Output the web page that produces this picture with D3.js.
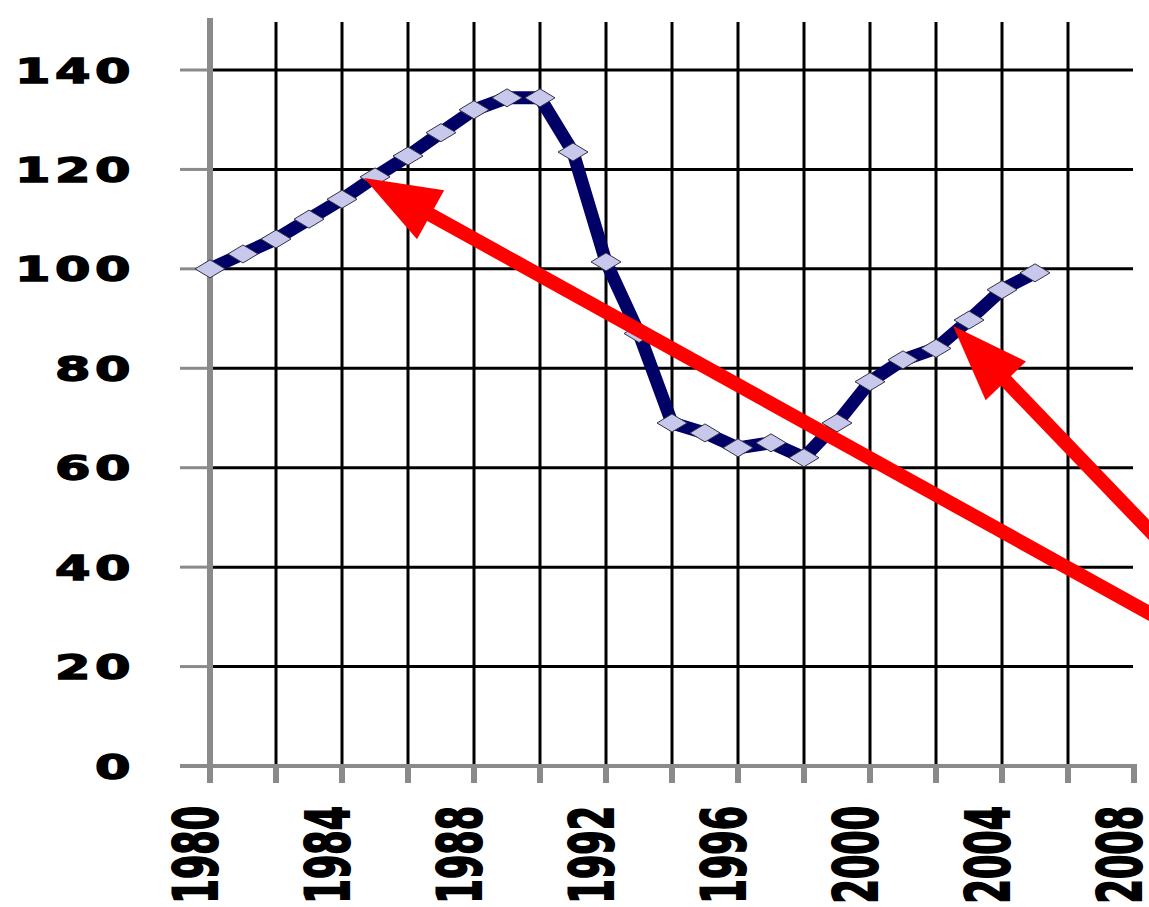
<!DOCTYPE html>
<html><head><meta charset="utf-8">
<script src="https://cdn.jsdelivr.net/npm/d3@7"></script>
<style>html,body{margin:0;padding:0;background:#fff;overflow:hidden}</style>
</head><body><svg id="chart" width="1149" height="907"></svg>
<script>
const years = [1980,1981,1982,1983,1984,1985,1986,1987,1988,1989,1990,1991,1992,1993,1994,1995,1996,1997,1998,1999,2000,2001,2002,2003,2004,2005];
const values = [100,103,106,110,114,118.5,122.7,127.4,132,134.4,134.4,123.5,101.4,87,69,67,64,65,62,69,77.3,81.7,84,89.7,95.8,99.2];
const yTicks = [0,20,40,60,80,100,120,140];
const xTicks = [1980,1982,1984,1986,1988,1990,1992,1994,1996,1998,2000,2002,2004,2006,2008];
const xTickLabels = ["1980","1984","1988","1992","1996","2000","2004","2008"];
const xGridYears = [1982,1984,1986,1988,1990,1992,1994,1996,1998,2000,2002,2004,2006];
// annotation arrows: [year, value] for tips and tails
const arrowTips = [[1984.67,118.3],[2002.52,88.5]];
const arrowTails = [[2010,25.1],[2010,36.8]];

const svg = d3.select("#chart");
const x = d3.scaleLinear().domain([1980,2008]).range([210,1134]);
const y = d3.scaleLinear().domain([0,140]).range([766,70]);

svg.append("rect").attr("width",1149).attr("height",907).attr("fill","#fff");

// horizontal gridlines
svg.append("g").selectAll("line").data(yTicks.filter(d=>d>0)).join("line")
  .attr("x1",x(1980)).attr("x2",x(2008)-1)
  .attr("y1",d=>y(d)).attr("y2",d=>y(d))
  .attr("stroke","#000").attr("stroke-width",3);
// vertical gridlines
svg.append("g").selectAll("line").data(xGridYears).join("line")
  .attr("x1",d=>x(d)).attr("x2",d=>x(d))
  .attr("y1",22).attr("y2",y(0))
  .attr("stroke","#000").attr("stroke-width",3);

// y tick stubs
svg.append("g").selectAll("line").data(yTicks).join("line")
  .attr("x1",x(1980)-30).attr("x2",x(1980))
  .attr("y1",d=>y(d)).attr("y2",d=>y(d))
  .attr("stroke","#8a8a8a").attr("stroke-width",3);
// x axis line
svg.append("line").attr("x1",x(1980)-30).attr("x2",x(2008)+3)
  .attr("y1",y(0)).attr("y2",y(0)).attr("stroke","#8a8a8a").attr("stroke-width",4);
// x tick stubs
svg.append("g").selectAll("line").data(xTicks).join("line")
  .attr("x1",d=>x(d)).attr("x2",d=>x(d))
  .attr("y1",y(0)).attr("y2",y(0)+17)
  .attr("stroke","#8a8a8a").attr("stroke-width",6);
// y axis line
svg.append("line").attr("x1",x(1980)).attr("x2",x(1980))
  .attr("y1",18).attr("y2",y(0)+17).attr("stroke","#8a8a8a").attr("stroke-width",6);

// y labels
svg.append("g").selectAll("text").data(yTicks).join("text")
  .attr("transform",d=>`translate(135,${y(d)+12.5}) scale(1.5,1)`)
  .attr("text-anchor","end")
  .attr("font-family","DejaVu Sans").attr("font-weight","bold").attr("font-size",34)
  .attr("letter-spacing",3)
  .attr("fill","#000").attr("stroke","#000").attr("stroke-width",1.4)
  .text(d=>String(d));

// x labels (rotated)
svg.append("g").selectAll("text").data(xTickLabels).join("text")
  .attr("transform",d=>`translate(${x(+d)+7},806) scale(1.72,1) rotate(-90)`)
  .attr("text-anchor","end")
  .attr("font-family","DejaVu Sans").attr("font-weight","bold").attr("font-size",35)
  .attr("fill","#000").attr("stroke","#000").attr("stroke-width",1.2)
  .text(d=>d);

// series line
const pts = years.map((yr,i)=>[yr,values[i]]);
svg.append("path").datum(pts)
  .attr("d",d3.line().x(d=>x(d[0])).y(d=>y(d[1])))
  .attr("fill","none").attr("stroke","#000066").attr("stroke-width",13)
  .attr("stroke-linejoin","round");
// diamond markers
svg.append("g").selectAll("path").data(pts).join("path")
  .attr("d","M-15,0L0,-9L15,0L0,9Z")
  .attr("transform",d=>`translate(${x(d[0])},${y(d[1])})`)
  .attr("fill","#c8c8ec").attr("stroke","#333344").attr("stroke-width",1);

// red arrows
const ag = svg.append("g");
arrowTips.forEach((tp,i)=>{
  const tip=[x(tp[0]),y(tp[1])], tail=[x(arrowTails[i][0]),y(arrowTails[i][1])];
  const dx=tail[0]-tip[0], dy=tail[1]-tip[1], L=Math.hypot(dx,dy);
  const ux=dx/L, uy=dy/L, len=76, hw=28;
  const base=[tip[0]+ux*len, tip[1]+uy*len];
  ag.append("line").attr("x1",base[0]-ux*4).attr("y1",base[1]-uy*4)
    .attr("x2",tail[0]).attr("y2",tail[1])
    .attr("stroke","#ff0000").attr("stroke-width",14);
  ag.append("polygon").attr("points",[tip,[base[0]-uy*hw,base[1]+ux*hw],[base[0]+uy*hw,base[1]-ux*hw]].map(p=>p.join(",")).join(" "))
    .attr("fill","#ff0000");
});
</script></body></html>
